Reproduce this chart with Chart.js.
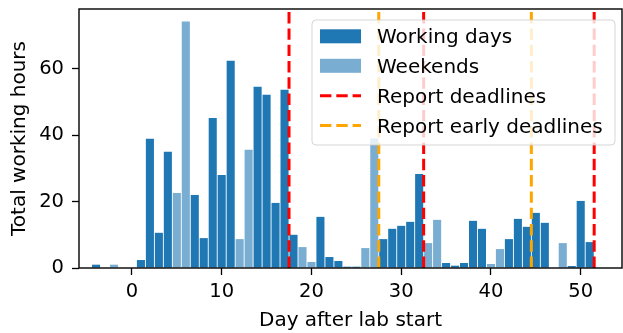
<!DOCTYPE html>
<html>
<head>
<meta charset="utf-8">
<script src="https://cdn.jsdelivr.net/npm/chart.js@4.4.1/dist/chart.umd.min.js"></script>
<style>
  html, body { margin: 0; padding: 0; background: #fff; }
  canvas { display: block; }
</style>
</head>
<body>
<canvas id="chart" width="623" height="333"></canvas>
<script>
// Days relative to the start of the lab and hours logged on each day
const days = [-4, -3, -2, -1, 0, 1, 2, 3, 4, 5, 6, 7, 8, 9, 10, 11, 12, 13, 14, 15,
  16, 17, 18, 19, 20, 21, 22, 23, 24, 25, 26, 27, 28, 29, 30, 31, 32, 33, 34, 35,
  36, 37, 38, 39, 40, 41, 42, 43, 44, 45, 46, 47, 48, 49, 50, 51];
const hours = [1.0, 0, 1.0, 0, 0, 2.4, 38.9, 10.6, 35.0, 22.6, 74.2, 22.0, 9.0, 45.2, 28.0,
  62.4, 8.7, 35.6, 54.6, 52.2, 19.6, 53.7, 10.0, 6.3, 1.8, 15.4, 3.3, 2.1, 0.4, 0.4,
  6.0, 39.0, 8.7, 11.8, 12.7, 13.9, 28.3, 7.5, 14.5, 1.5, 0.7, 1.5, 14.2, 11.8, 1.2,
  5.7, 8.7, 14.8, 12.4, 16.6, 13.6, 0, 7.5, 0.6, 20.2, 7.8];
const weekendDays = [-2, -1, 5, 6, 12, 13, 19, 20, 26, 27, 33, 34, 40, 41, 47, 48];

// Report deadlines (between days)
const deadlineDays = [17.5, 32.5, 51.5];
const earlyDeadlineDays = [27.5, 44.5];

// Axis ticks
const xTicks = [0, 10, 20, 30, 40, 50];
const yTicks = [0, 20, 40, 60];

const X_MIN = -5.9;
const X_MAX = 54.6;
const Y_MAX = 78;

const DARK = '#1f77b4';
const LIGHT = 'rgba(31,119,180,0.6)';
const RED = '#ff0000';
const ORANGE = '#ffa500';
const FONT = 'DejaVu Sans';
const DASH = [11.4, 4.9];

const legendItems = [
  { label: 'Working days', kind: 'box', color: DARK },
  { label: 'Weekends', kind: 'box', color: LIGHT },
  { label: 'Report deadlines', kind: 'dash', color: RED },
  { label: 'Report early deadlines', kind: 'dash', color: ORANGE }
];

function verticalLines(xs) {
  const pts = [];
  xs.forEach(x => { pts.push({ x: x, y: 0 }, { x: x, y: Y_MAX }, { x: x, y: null }); });
  return pts;
}

const barPoints = days.map((d, i) => ({ x: d, y: hours[i] }));
const barColors = days.map(d => weekendDays.includes(d) ? LIGHT : DARK);

// Full frame around the plot area
const framePlugin = {
  id: 'frame',
  afterDatasetsDraw(chart) {
    const { ctx, chartArea: a } = chart;
    ctx.save();
    ctx.strokeStyle = '#000';
    ctx.lineWidth = 1.4;
    ctx.strokeRect(a.left, a.top, a.right - a.left, a.bottom - a.top);
    ctx.restore();
  }
};

// Legend box in the upper right of the plot area
const insideLegend = {
  id: 'insideLegend',
  afterDraw(chart) {
    const ctx = chart.ctx;
    const x0 = 312, y0 = 20, w = 303, h = 125, r = 4;
    ctx.save();
    ctx.beginPath();
    ctx.moveTo(x0 + r, y0);
    ctx.lineTo(x0 + w - r, y0);
    ctx.arcTo(x0 + w, y0, x0 + w, y0 + r, r);
    ctx.lineTo(x0 + w, y0 + h - r);
    ctx.arcTo(x0 + w, y0 + h, x0 + w - r, y0 + h, r);
    ctx.lineTo(x0 + r, y0 + h);
    ctx.arcTo(x0, y0 + h, x0, y0 + h - r, r);
    ctx.lineTo(x0, y0 + r);
    ctx.arcTo(x0, y0, x0 + r, y0, r);
    ctx.closePath();
    ctx.fillStyle = 'rgba(255,255,255,0.8)';
    ctx.fill();
    ctx.strokeStyle = 'rgba(204,204,204,0.8)';
    ctx.lineWidth = 1;
    ctx.stroke();

    const rowY = [36.3, 65.8, 95.7, 125.5];
    ctx.font = '20px "' + FONT + '"';
    ctx.textBaseline = 'alphabetic';
    ctx.textAlign = 'left';
    legendItems.forEach((item, i) => {
      const cy = rowY[i];
      if (item.kind === 'box') {
        ctx.fillStyle = item.color;
        ctx.fillRect(320, cy - 7, 41, 14);
      } else {
        ctx.beginPath();
        ctx.setLineDash(DASH);
        ctx.lineDashOffset = 0;
        ctx.strokeStyle = item.color;
        ctx.lineWidth = 3;
        ctx.moveTo(320, cy);
        ctx.lineTo(361, cy);
        ctx.stroke();
        ctx.setLineDash([]);
      }
      ctx.fillStyle = '#000';
      ctx.fillText(item.label, 377, cy + 7);
    });
    ctx.restore();
  }
};

const tickFont = { family: FONT, size: 19.5 };
const titleFont = { family: FONT, size: 20 };

new Chart(document.getElementById('chart'), {
  type: 'bar',
  data: {
    datasets: [
      {
        label: 'Hours',
        data: barPoints,
        backgroundColor: barColors,
        borderWidth: 0,
        categoryPercentage: 1.0,
        barPercentage: 0.9,
        order: 2
      },
      {
        type: 'line',
        label: 'Report deadlines',
        data: verticalLines(deadlineDays),
        borderColor: RED,
        borderWidth: 3,
        borderDash: DASH,
        borderCapStyle: 'butt',
        pointRadius: 0,
        spanGaps: false,
        fill: false,
        tension: 0,
        order: 1
      },
      {
        type: 'line',
        label: 'Report early deadlines',
        data: verticalLines(earlyDeadlineDays),
        borderColor: ORANGE,
        borderWidth: 3,
        borderDash: DASH,
        borderCapStyle: 'butt',
        pointRadius: 0,
        spanGaps: false,
        fill: false,
        tension: 0,
        order: 1
      }
    ]
  },
  options: {
    responsive: false,
    animation: false,
    devicePixelRatio: 1,
    layout: { padding: { top: 9, right: 1, left: 0, bottom: 0 } },
    plugins: { legend: { display: false }, tooltip: { enabled: false } },
    scales: {
      x: {
        type: 'linear',
        min: X_MIN,
        max: X_MAX,
        offset: false,
        afterBuildTicks: s => { s.ticks = xTicks.map(v => ({ value: v })); },
        afterFit: s => { s.height = 65; s.paddingLeft = 0; s.paddingRight = 0; },
        ticks: { font: tickFont, color: '#000', padding: 5, maxRotation: 0, autoSkip: false },
        grid: { display: true, drawOnChartArea: false, drawTicks: true, tickLength: 7, tickColor: '#000', tickWidth: 1.3, offset: false },
        border: { display: false },
        title: { display: true, text: 'Day after lab start', font: titleFont, color: '#000', padding: { top: 0, bottom: 0 } }
      },
      y: {
        min: 0,
        max: Y_MAX,
        afterBuildTicks: s => { s.ticks = yTicks.map(v => ({ value: v })); },
        afterFit: s => { s.width = 79; s.paddingTop = 0; s.paddingBottom = 0; },
        ticks: { font: tickFont, color: '#000', padding: 8 },
        grid: { display: true, drawOnChartArea: false, drawTicks: true, tickLength: 7, tickColor: '#000', tickWidth: 1.3 },
        border: { display: false },
        title: { display: true, text: 'Total working hours', font: titleFont, color: '#000', padding: { top: 8, bottom: 0 } }
      }
    }
  },
  plugins: [framePlugin, insideLegend]
});
</script>
</body>
</html>
